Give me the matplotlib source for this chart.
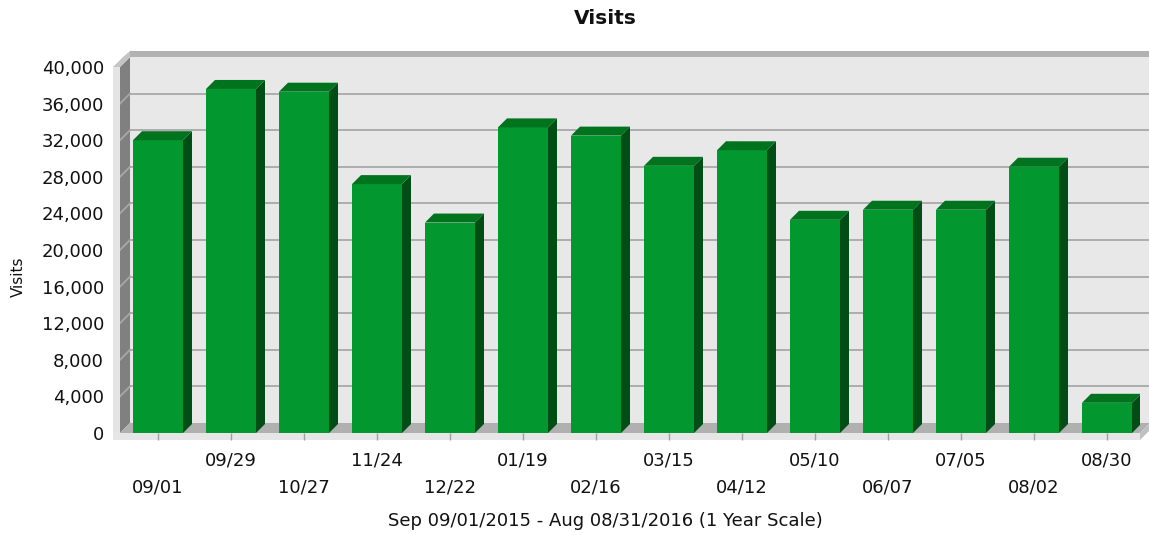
import numpy as np
import matplotlib.pyplot as plt
from matplotlib.patches import Polygon, Rectangle

# data
dates = ["09/01", "09/29", "10/27", "11/24", "12/22", "01/19", "02/16",
         "03/15", "04/12", "05/10", "06/07", "07/05", "08/02", "08/30"]
visits = [32000, 37600, 37300, 27200, 23000, 33400, 32500,
          29200, 30900, 23300, 24400, 24400, 29100, 3300]
yticks = list(range(0, 40001, 4000))

plt.rcParams["font.family"] = ["DejaVu Sans"]

W, H = 1149, 535
fig = plt.figure(figsize=(W / 100, H / 100), dpi=100)
ax = fig.add_axes([120 / W, (H - 433) / H, 1020 / W, 366 / H])

x = np.arange(len(dates))
x0, x1 = -0.5205, 13.452
ymax = 40000
ax.set_xlim(x0, x1)
ax.set_ylim(0, ymax)

# pixel sizes in data units
px = (x1 - x0) / 1020
py = ymax / 366
wdx, wdy = 10 * px, 10 * py      # wall depth
bdx, bdy = 9 * px, 9 * py        # bar depth
slab = 7                         # wall/floor thickness in px
bw = 50 * px

front_c, top_c, side_c = "#03982f", "#00731f", "#004d16"

# back wall
ax.add_patch(Rectangle((x0 + wdx, wdy), x1 - x0, ymax, color="#e8e8e8",
                       lw=0, zorder=0.5, clip_on=False))
ax.add_patch(Rectangle((x0 + wdx, ymax + wdy), x1 - x0, 6 * py, color="#b2b2b2",
                       lw=0, zorder=0.5, clip_on=False))

# gridlines on back wall + slanted ones on the left wall
for v in yticks[1:-1]:
    ax.plot([x0 + wdx, x1 + wdx], [v + wdy, v + wdy], color="#a8a8a8", lw=1.3,
            zorder=0.6, clip_on=False)

# left wall
ax.add_patch(Polygon([(x0, 0), (x0 + wdx, wdy), (x0 + wdx, ymax + wdy), (x0, ymax)],
                     color="#808080", lw=0, zorder=0.7, clip_on=False))
for v in yticks[1:-1]:
    ax.plot([x0, x0 + wdx], [v, v + wdy], color="#a8a8a8", lw=1.3,
            zorder=0.75, clip_on=False)
ax.add_patch(Rectangle((x0 - slab * px, -slab * py), slab * px, ymax + slab * py,
                       color="#e4e4e4", lw=0, zorder=0.9, clip_on=False))
ax.add_patch(Polygon([(x0 - slab * px, ymax), (x0, ymax), (x0 + wdx, ymax + wdy),
                      (x0 + wdx, ymax + wdy + 6 * py), (x0 + wdx - slab * px, ymax + wdy)],
                     color="#c4c4c4", lw=0, zorder=0.9, clip_on=False))

# floor
ax.add_patch(Polygon([(x0, 0), (x0 + wdx, wdy), (x1 + wdx, wdy), (x1, 0)],
                     color="#b0b0b0", lw=0, zorder=0.8, clip_on=False))
ax.add_patch(Rectangle((x0 - slab * px, -slab * py), x1 - x0 + slab * px, slab * py,
                       color="#e6e6e6", lw=0, zorder=0.9, clip_on=False))
ax.add_patch(Polygon([(x1, 0), (x1 + wdx, wdy), (x1 + wdx, wdy - slab * py), (x1, -slab * py)],
                     color="#c0c0c0", lw=0, zorder=0.9, clip_on=False))

# bars
ax.bar(x, visits, width=bw, color=front_c, lw=0, zorder=3)
for xi, v in zip(x, visits):
    r = xi + bw / 2
    l = xi - bw / 2
    ax.add_patch(Polygon([(r, 0), (r + bdx, bdy), (r + bdx, v + bdy), (r, v)],
                         color=side_c, lw=0, zorder=3))
    ax.add_patch(Polygon([(l, v), (l + bdx, v + bdy), (r + bdx, v + bdy), (r, v)],
                         color=top_c, lw=0, zorder=3))

for s in ax.spines.values():
    s.set_visible(False)
ax.patch.set_visible(False)

ax.set_yticks(yticks, [f"{v:,}" for v in yticks])
ax.tick_params(axis="y", length=0, pad=11.5, labelsize=13, labelcolor="#111111")
ax.set_xticks(x, dates)
ax.tick_params(axis="x", length=5, width=1, color="#a0a0a0", labelsize=13,
               labelcolor="#111111")
for i, t in enumerate(ax.xaxis.get_major_ticks()):
    t.set_pad(8.6 if i % 2 else 27.4)

ax.set_title("Visits", fontsize=14.5, fontweight="bold", x=(605 - 120) / 1020,
             y=(433 - 18) / 366, va="center", pad=0, color="#111111")
ax.set_ylabel("Visits", fontsize=11, color="#111111")
ax.yaxis.set_label_coords((18 - 120) / 1020, (433 - 277) / 366)
ax.yaxis.label.set_va("center")
ax.set_xlabel("Sep 09/01/2015 - Aug 08/31/2016 (1 Year Scale)", fontsize=13,
              color="#111111")
ax.xaxis.set_label_coords((605 - 120) / 1020, -(521 - 433) / 366)
ax.xaxis.label.set_va("center")

fig.savefig("out.png", dpi=100)
